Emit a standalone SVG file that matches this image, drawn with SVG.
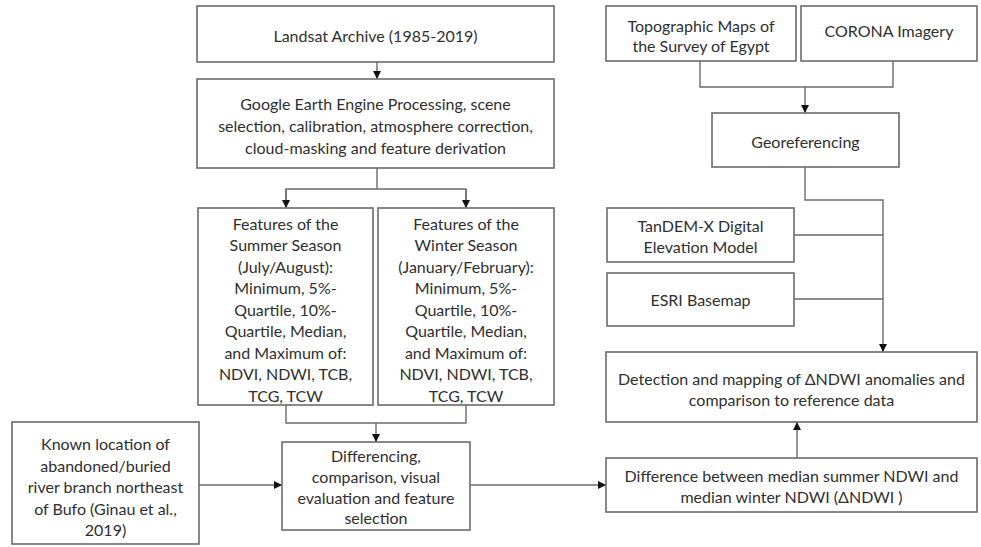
<svg xmlns="http://www.w3.org/2000/svg" width="981" height="547" viewBox="0 0 981 547">
<style>
.box{fill:#fff;stroke:#6b6b6b;stroke-width:1.6}
.ln{fill:none;stroke:#6b6b6b;stroke-width:1.4}
text{font-family:Lato,"Open Sans","Liberation Sans",sans-serif;font-size:16px;fill:#2f2f2f;text-anchor:middle;dominant-baseline:central}
</style>
<defs>
<marker id="ar" viewBox="0 0 10 10" refX="10" refY="5" markerWidth="8" markerHeight="8" markerUnits="userSpaceOnUse" orient="auto">
<path d="M0,0 L10,5 L0,10 z" fill="#111"/>
</marker>
</defs>
<rect width="981" height="547" fill="#fff"/>
<g id="connectors">
<path class="ln" d="M377,62 V79" marker-end="url(#ar)"/>
<path class="ln" d="M377,168 V189 M286,208 V189 H466 V208"/>
<path class="ln" d="M286,189 V208" marker-end="url(#ar)"/>
<path class="ln" d="M466,189 V208" marker-end="url(#ar)"/>
<path class="ln" d="M286,405 V423 H466 V405"/>
<path class="ln" d="M376,423 V442" marker-end="url(#ar)"/>
<path class="ln" d="M199,485 H282" marker-end="url(#ar)"/>
<path class="ln" d="M470,485 H606" marker-end="url(#ar)"/>
<path class="ln" d="M797,458 V422" marker-end="url(#ar)"/>
<path class="ln" d="M700,61 V87 H893 V61"/>
<path class="ln" d="M805,87 V113" marker-end="url(#ar)"/>
<path class="ln" d="M805,167 V200 H883 V352" marker-end="url(#ar)"/>
<path class="ln" d="M794,235 H883 M794,299 H883"/>
</g>
<g id="landsat">
<rect class="box" x="197" y="6" width="357" height="56"/>
<text x="375.5" y="35">Landsat Archive (1985-2019)</text>
</g>
<g id="gee">
<rect class="box" x="197" y="79" width="357" height="89"/>
<text x="375.5" y="103">Google Earth Engine Processing, scene</text>
<text x="375.5" y="125">selection, calibration, atmosphere correction,</text>
<text x="375.5" y="147">cloud-masking and feature derivation</text>
</g>
<g id="summer">
<rect class="box" x="198" y="208" width="175" height="197"/>
<text x="285.5" y="223">Features of the</text>
<text x="285.5" y="244.5">Summer Season</text>
<text x="285.5" y="266">(July/August):</text>
<text x="285.5" y="287.5">Minimum, 5%-</text>
<text x="285.5" y="309">Quartile, 10%-</text>
<text x="285.5" y="330.5">Quartile, Median,</text>
<text x="285.5" y="352">and Maximum of:</text>
<text x="285.5" y="373.5">NDVI, NDWI, TCB,</text>
<text x="285.5" y="395">TCG, TCW</text>
</g>
<g id="winter">
<rect class="box" x="378" y="208" width="176" height="197"/>
<text x="466" y="223">Features of the</text>
<text x="466" y="244.5">Winter Season</text>
<text x="466" y="266">(January/February):</text>
<text x="466" y="287.5">Minimum, 5%-</text>
<text x="466" y="309">Quartile, 10%-</text>
<text x="466" y="330.5">Quartile, Median,</text>
<text x="466" y="352">and Maximum of:</text>
<text x="466" y="373.5">NDVI, NDWI, TCB,</text>
<text x="466" y="395">TCG, TCW</text>
</g>
<g id="known">
<rect class="box" x="12" y="422" width="187" height="122"/>
<text x="105.5" y="443.5">Known location of</text>
<text x="105.5" y="465">abandoned/buried</text>
<text x="105.5" y="486.5">river branch northeast</text>
<text x="105.5" y="508">of Bufo (Ginau et al.,</text>
<text x="105.5" y="529.5">2019)</text>
</g>
<g id="differencing">
<rect class="box" x="282" y="442" width="188" height="88"/>
<text x="376" y="455.5">Differencing,</text>
<text x="376" y="476.5">comparison, visual</text>
<text x="376" y="497">evaluation and feature</text>
<text x="376" y="517.5">selection</text>
</g>
<g id="topo">
<rect class="box" x="606" y="6" width="190" height="55"/>
<text x="701" y="25">Topographic Maps of</text>
<text x="701" y="45">the Survey of Egypt</text>
</g>
<g id="corona">
<rect class="box" x="801" y="6" width="176" height="55"/>
<text x="889" y="30.5">CORONA Imagery</text>
</g>
<g id="georef">
<rect class="box" x="712" y="113" width="187" height="54"/>
<text x="805.5" y="141">Georeferencing</text>
</g>
<g id="tandem">
<rect class="box" x="607" y="208" width="187" height="54"/>
<text x="700.5" y="225">TanDEM-X Digital</text>
<text x="700.5" y="246.5">Elevation Model</text>
</g>
<g id="esri">
<rect class="box" x="607" y="273" width="187" height="53"/>
<text x="700.5" y="299.5">ESRI Basemap</text>
</g>
<g id="detection">
<rect class="box" x="606" y="352" width="371" height="70"/>
<text x="791.5" y="378">Detection and mapping of ΔNDWI anomalies and</text>
<text x="791.5" y="399.5">comparison to reference data</text>
</g>
<g id="difference">
<rect class="box" x="606" y="458" width="371" height="54"/>
<text x="791.5" y="475">Difference between median summer NDWI and</text>
<text x="791.5" y="496.5">median winter NDWI (ΔNDWI )</text>
</g>
</svg>
